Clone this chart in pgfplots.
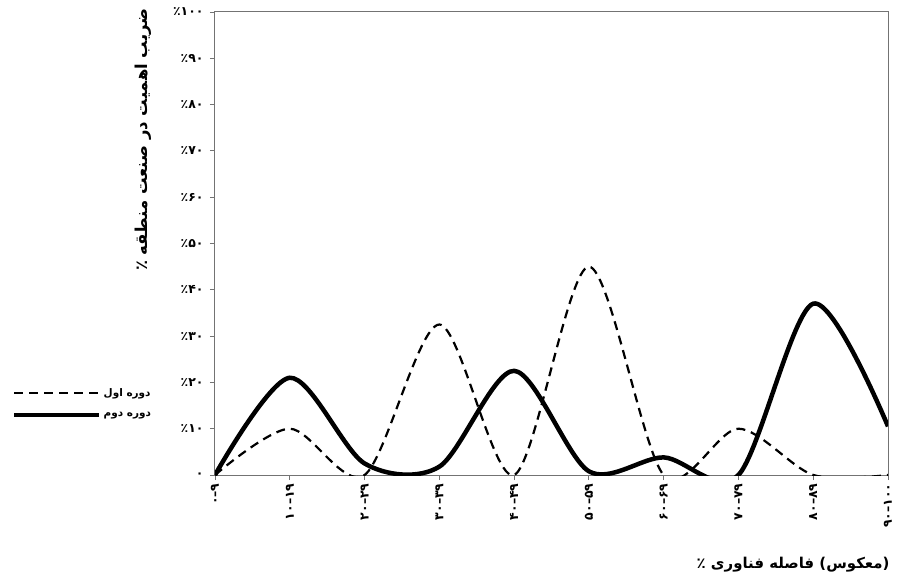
\documentclass[border=0pt]{standalone}
\usepackage{pgfplots}
\pgfplotsset{compat=1.18}
\usepackage{fontspec}
\setmainfont{DejaVu Sans}
\newfontfamily\fa[Script=Arabic]{DejaVu Sans}
\TeXXeTstate=1

\begin{document}
\begin{tikzpicture}
\useasboundingbox (-215bp,-110bp) rectangle (683bp,475bp);
\begin{axis}[
    at={(0,0)}, anchor=south west,
    scale only axis, width=673bp, height=463bp,
    xmin=0, xmax=9, ymin=0, ymax=100,
    xtick={0,...,9},
    xticklabels={۰–۹,۱۰–۱۹,۲۰–۲۹,۳۰–۳۹,۴۰–۴۹,۵۰–۵۹,۶۰–۶۹,۷۰–۷۹,۸۰–۸۹,۹۰–۱۰۰},
    ytick={0,10,...,100},
    yticklabels={۰,٪۱۰,٪۲۰,٪۳۰,٪۴۰,٪۵۰,٪۶۰,٪۷۰,٪۸۰,٪۹۰,٪۱۰۰},
    tick label style={font=\bfseries\fontsize{12.5}{14}\selectfont},
    x tick label style={rotate=90, anchor=east},
    y tick label style={xshift=-3bp},
    xtick pos=left, ytick pos=left,
    tick align=outside, major tick length=5bp,
    tick style={black!55, line width=0.8bp},
    axis line style={black!55, line width=1bp},
    ylabel={\beginR ضریب اهمیت در صنعت منطقه ٪\endR},
    ylabel style={font=\fa\bfseries\fontsize{16.5}{18}\selectfont,
        at={([xshift=-72bp,yshift=7bp]axis description cs:0,1)}, anchor=east},
    xlabel={\beginR (معکوس) فاصله فناوری ٪\endR},
    xlabel style={font=\fa\bfseries\fontsize{15}{17}\selectfont,
        at={([xshift=5bp,yshift=-90bp]axis description cs:1,0)}, anchor=east},
    legend style={draw=none, fill=none, inner sep=0pt,
        at={([xshift=-203bp,yshift=55bp]axis description cs:0,0)}, anchor=south west,
        font=\fa\bfseries\fontsize{10.5}{12}\selectfont, row sep=10bp},
    legend cell align=left,
    legend image code/.code={\draw[#1] (0bp,0bp) -- (85bp,0bp);},
]
\addplot[black, line width=2.2bp, dash pattern=on 9bp off 6bp, smooth, tension=0.5]
    coordinates {(0,0)(1,10)(2,0)(3,32.5)(4,0)(5,45)(6,0)(7,10)(8,0)(9,0)};
\addlegendentry{\beginR دوره اول\endR}
\addplot[black, line width=4.5bp, smooth, tension=0.5]
    coordinates {(0,0)(1,21)(2,2.5)(3,1.8)(4,22.5)(5,0.8)(6,3.8)(7,0)(8,37)(9,10.5)};
\addlegendentry{\beginR دوره دوم\endR}
\end{axis}
\end{tikzpicture}
\end{document}
